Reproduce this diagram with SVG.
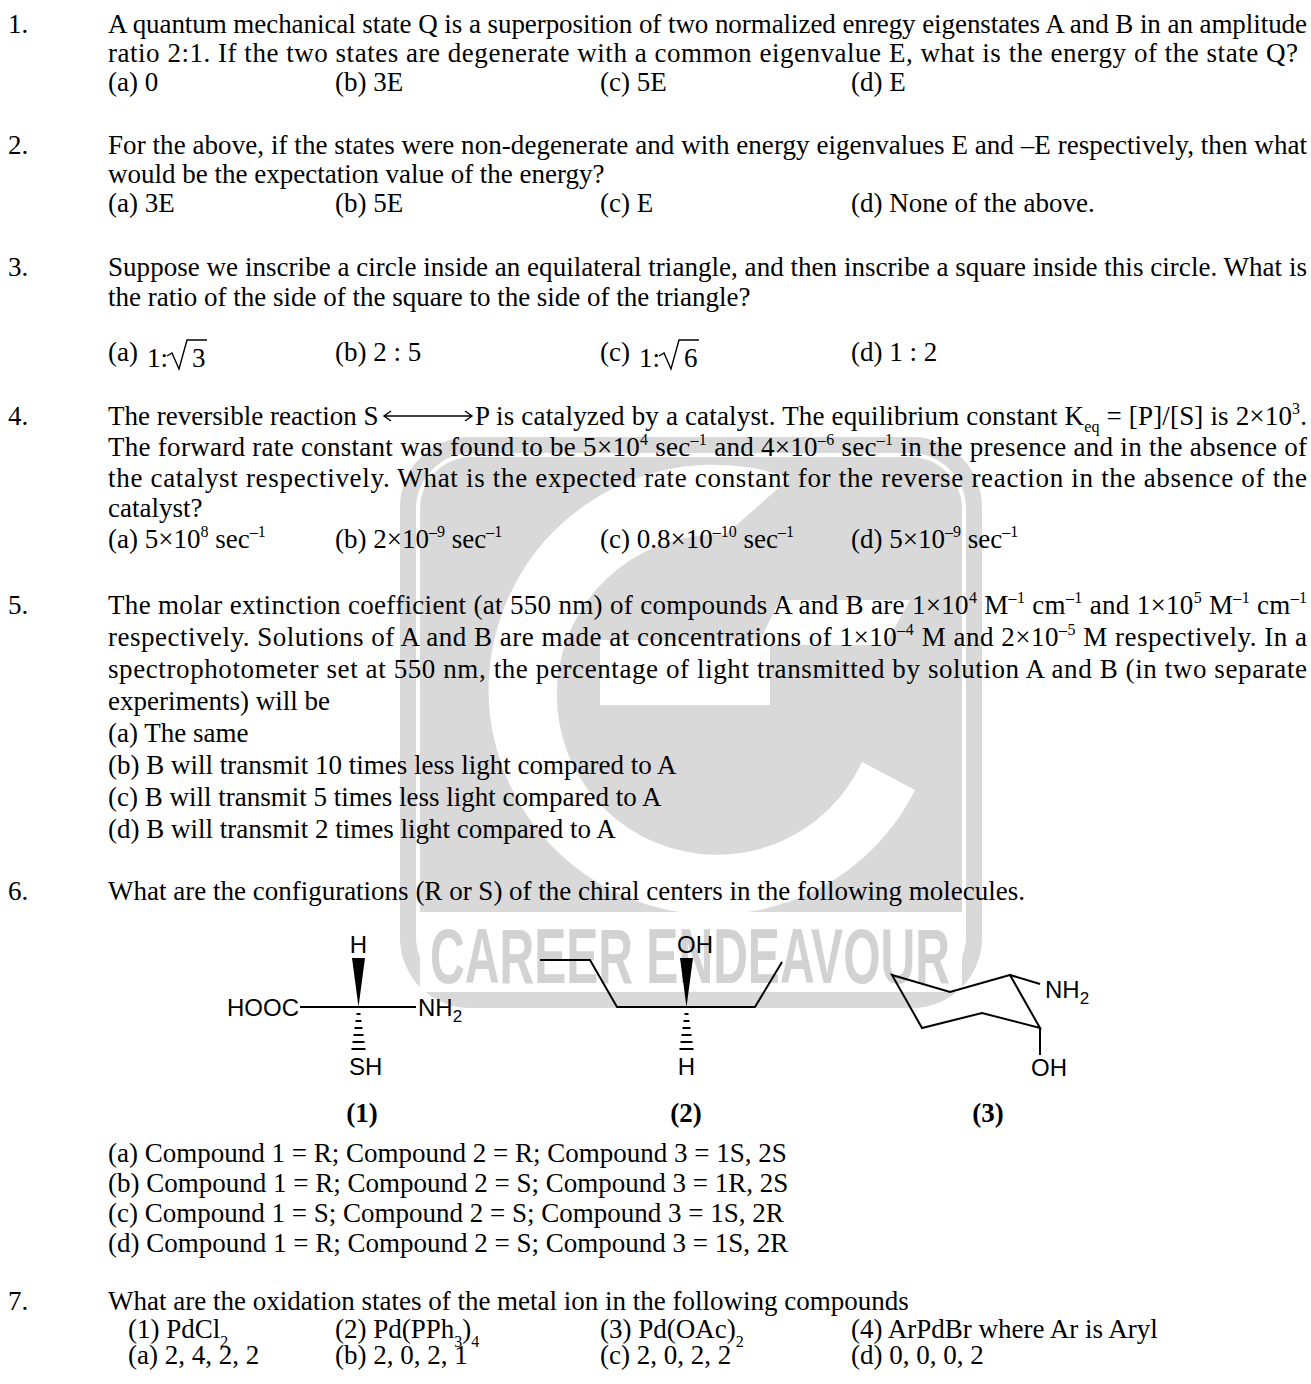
<svg xmlns="http://www.w3.org/2000/svg" width="1311" height="1384" viewBox="0 0 1311 1384">
<style>
text{font-family:"Liberation Serif","Times New Roman",serif;font-size:27px;fill:#000}
.sup{font-size:16px}
.ch{font-family:"Liberation Sans",Arial,sans-serif;font-size:24px}
.chs{font-size:17px}
.lbl{font-weight:bold}
.bond{stroke:#000;stroke-width:2;fill:none}
.wm{fill:#d9d9d9}
.wmw{fill:#fff}
.wmt{font-family:"Liberation Sans",Arial,sans-serif;font-weight:bold;font-size:78px;fill:#d2d2d2}
.ar{stroke:#000;stroke-width:1.4;fill:none}
</style>
<rect width="1311" height="1384" fill="#fff"/>

<g id="watermark">
<rect x="400" y="437" width="582" height="571" rx="70" class="wm"/>
<rect x="418" y="455" width="546" height="535" rx="54" fill="none" stroke="#fff" stroke-width="4"/>
<path class="wmw" d="M790,478 A225,225 0 1,0 915,790 L862,762 A160,160 0 1,1 725,535 Z"/>
<path class="wmw" d="M600,640 L760,640 L780,600 L910,600 L885,645 L770,645 L770,705 L600,705 Z"/>
<rect x="420" y="912" width="542" height="80" class="wmw"/>
<text class="wmt" x="430" y="983" textLength="520" lengthAdjust="spacingAndGlyphs">CAREER ENDEAVOUR</text>
</g>

<g id="q1">
<text x="8" y="33">1.</text>
<text x="108" y="33" textLength="1199" lengthAdjust="spacing">A quantum mechanical state Q is a superposition of two normalized enregy eigenstates A and B in an amplitude</text>
<text x="108" y="62" textLength="1190" lengthAdjust="spacing">ratio 2:1. If the two states are degenerate with a common eigenvalue E, what is the energy of the state Q?</text>
<text x="108" y="91">(a) 0</text>
<text x="335" y="91">(b) 3E</text>
<text x="600" y="91">(c) 5E</text>
<text x="851" y="91">(d) E</text>
</g>

<g id="q2">
<text x="8" y="154">2.</text>
<text x="108" y="154" textLength="1199" lengthAdjust="spacing">For the above, if the states were non-degenerate and with energy eigenvalues E and –E respectively, then what</text>
<text x="108" y="183">would be the expectation value of the energy?</text>
<text x="108" y="212">(a) 3E</text>
<text x="335" y="212">(b) 5E</text>
<text x="600" y="212">(c) E</text>
<text x="851" y="212">(d) None of the above.</text>
</g>

<g id="q3">
<text x="8" y="276">3.</text>
<text x="108" y="276" textLength="1199" lengthAdjust="spacing">Suppose we inscribe a circle inside an equilateral triangle, and then inscribe a square inside this circle. What is</text>
<text x="108" y="306">the ratio of the side of the square to the side of the triangle?</text>
<text x="108" y="361">(a)</text>
<text x="147" y="367">1:</text>
<polyline class="ar" points="167,356 172,353 179,369 187,340 207,340"/>
<text x="192" y="367">3</text>
<text x="335" y="361">(b) 2 : 5</text>
<text x="600" y="361">(c)</text>
<text x="639" y="367">1:</text>
<polyline class="ar" points="659,356 664,353 671,369 679,340 699,340"/>
<text x="684" y="367">6</text>
<text x="851" y="361">(d) 1 : 2</text>
</g>

<g id="q4">
<text x="8" y="425">4.</text>
<text x="108" y="425">The reversible reaction S</text>
<g class="ar">
<line x1="384" y1="416" x2="472" y2="416"/>
<polyline points="391,411 384,416 391,421"/>
<polyline points="465,411 472,416 465,421"/>
</g>
<text x="475" y="425" textLength="832" lengthAdjust="spacing">P  is catalyzed by a catalyst. The equilibrium constant K<tspan class="sup" dy="7">eq</tspan><tspan dy="-7"> = [P]/[S] is 2×10</tspan><tspan class="sup" dy="-11">3</tspan><tspan dy="11">.</tspan></text>
<text x="108" y="456" textLength="1199" lengthAdjust="spacing">The forward rate constant was found to be 5×10<tspan class="sup" dy="-11">4</tspan><tspan dy="11"> sec</tspan><tspan class="sup" dy="-11">–1</tspan><tspan dy="11"> and 4×10</tspan><tspan class="sup" dy="-11">–6</tspan><tspan dy="11"> sec</tspan><tspan class="sup" dy="-11">–1</tspan><tspan dy="11"> in the presence and in the absence of</tspan></text>
<text x="108" y="487" textLength="1199" lengthAdjust="spacing">the catalyst respectively. What is the expected rate constant for the reverse reaction in the absence of the</text>
<text x="108" y="517">catalyst?</text>
<text x="108" y="548">(a) 5×10<tspan class="sup" dy="-11">8</tspan><tspan dy="11"> sec</tspan><tspan class="sup" dy="-11">–1</tspan></text>
<text x="335" y="548">(b) 2×10<tspan class="sup" dy="-11">–9</tspan><tspan dy="11"> sec</tspan><tspan class="sup" dy="-11">–1</tspan></text>
<text x="600" y="548">(c) 0.8×10<tspan class="sup" dy="-11">–10</tspan><tspan dy="11"> sec</tspan><tspan class="sup" dy="-11">–1</tspan></text>
<text x="851" y="548">(d) 5×10<tspan class="sup" dy="-11">–9</tspan><tspan dy="11"> sec</tspan><tspan class="sup" dy="-11">–1</tspan></text>
</g>

<g id="q5">
<text x="8" y="614">5.</text>
<text x="108" y="614" textLength="1199" lengthAdjust="spacing">The molar extinction coefficient (at 550 nm) of compounds A and B are 1×10<tspan class="sup" dy="-11">4</tspan><tspan dy="11"> M</tspan><tspan class="sup" dy="-11">–1</tspan><tspan dy="11"> cm</tspan><tspan class="sup" dy="-11">–1</tspan><tspan dy="11"> and 1×10</tspan><tspan class="sup" dy="-11">5</tspan><tspan dy="11"> M</tspan><tspan class="sup" dy="-11">–1</tspan><tspan dy="11">  cm</tspan><tspan class="sup" dy="-11">–1</tspan></text>
<text x="108" y="646" textLength="1199" lengthAdjust="spacing">respectively. Solutions of A and B are made at concentrations of 1×10<tspan class="sup" dy="-11">–4</tspan><tspan dy="11"> M and 2×10</tspan><tspan class="sup" dy="-11">–5</tspan><tspan dy="11"> M respectively. In a</tspan></text>
<text x="108" y="678" textLength="1199" lengthAdjust="spacing">spectrophotometer set at 550 nm, the percentage of light transmitted by solution A and B (in two separate</text>
<text x="108" y="710">experiments) will be</text>
<text x="108" y="742">(a) The same</text>
<text x="108" y="774">(b) B will transmit 10 times less light compared to A</text>
<text x="108" y="806">(c) B will transmit 5 times less light compared to A</text>
<text x="108" y="838">(d) B will transmit 2 times light compared to A</text>
</g>

<g id="q6">
<text x="8" y="900">6.</text>
<text x="108" y="900">What are the configurations (R or S) of the chiral centers in the following molecules.</text>
</g>

<g id="compound1">
<text class="ch" x="358.5" y="953" text-anchor="middle">H</text>
<polygon points="352,958 365,958 358.5,1007" fill="#000"/>
<line class="bond" x1="300" y1="1007" x2="416" y2="1007"/>
<text class="ch" x="299" y="1016" text-anchor="end">HOOC</text>
<text class="ch" x="418" y="1016">NH<tspan class="chs" dy="6">2</tspan></text>
<g class="bond">
<line x1="356.5" y1="1014" x2="360.5" y2="1014"/>
<line x1="355.5" y1="1021" x2="361.5" y2="1021"/>
<line x1="354.5" y1="1028" x2="362.5" y2="1028"/>
<line x1="353.5" y1="1035" x2="363.5" y2="1035"/>
<line x1="352.5" y1="1042" x2="364.5" y2="1042"/>
<line x1="351.5" y1="1049" x2="365.5" y2="1049"/>
</g>
<text class="ch" x="349" y="1075">SH</text>
<text class="lbl" x="362" y="1122" text-anchor="middle">(1)</text>
</g>

<g id="compound2">
<text class="ch" x="677" y="953">OH</text>
<polygon points="680,958 693,958 686.5,1007" fill="#000"/>
<polyline class="bond" points="540,960 590,960 617,1007 755,1007 782,962"/>
<g class="bond">
<line x1="684.5" y1="1014" x2="688.5" y2="1014"/>
<line x1="683.5" y1="1021" x2="689.5" y2="1021"/>
<line x1="682.5" y1="1028" x2="690.5" y2="1028"/>
<line x1="681.5" y1="1035" x2="691.5" y2="1035"/>
<line x1="680.5" y1="1042" x2="692.5" y2="1042"/>
<line x1="679.5" y1="1049" x2="693.5" y2="1049"/>
</g>
<text class="ch" x="686.5" y="1075" text-anchor="middle">H</text>
<text class="lbl" x="686" y="1122" text-anchor="middle">(2)</text>
</g>

<g id="compound3">
<polygon class="bond" points="892,975 950,992 1010,975 1040,1028 982,1013 922,1028"/>
<line class="bond" x1="1010" y1="975" x2="1040" y2="984"/>
<text class="ch" x="1045" y="998">NH<tspan class="chs" dy="6">2</tspan></text>
<line class="bond" x1="1040" y1="1028" x2="1040" y2="1055"/>
<text class="ch" x="1031" y="1076">OH</text>
<text class="lbl" x="988" y="1122" text-anchor="middle">(3)</text>
</g>

<g id="q6opts">
<text x="108" y="1162">(a) Compound 1 = R; Compound 2 = R; Compound 3 = 1S, 2S</text>
<text x="108" y="1192">(b) Compound 1 = R; Compound 2 = S; Compound 3 = 1R, 2S</text>
<text x="108" y="1222">(c) Compound 1 = S; Compound 2 = S; Compound 3 = 1S, 2R</text>
<text x="108" y="1252">(d) Compound 1 = R; Compound 2 = S; Compound 3 = 1S, 2R</text>
</g>

<g id="q7">
<text x="8" y="1310">7.</text>
<text x="108" y="1310">What are the oxidation states of the metal ion in the following compounds</text>
<text x="128" y="1338">(1) PdCl<tspan class="sup" dy="9">2</tspan></text>
<text x="335" y="1338">(2) Pd(PPh<tspan class="sup" dy="9">3</tspan><tspan dy="-9">)</tspan><tspan class="sup" dy="9">4</tspan></text>
<text x="600" y="1338">(3) Pd(OAc)<tspan class="sup" dy="9">2</tspan></text>
<text x="851" y="1338">(4) ArPdBr where Ar is Aryl</text>
<text x="128" y="1364">(a) 2, 4, 2, 2</text>
<text x="335" y="1364">(b) 2, 0, 2, 1</text>
<text x="600" y="1364">(c) 2, 0, 2, 2</text>
<text x="851" y="1364">(d) 0, 0, 0, 2</text>
</g>
</svg>
